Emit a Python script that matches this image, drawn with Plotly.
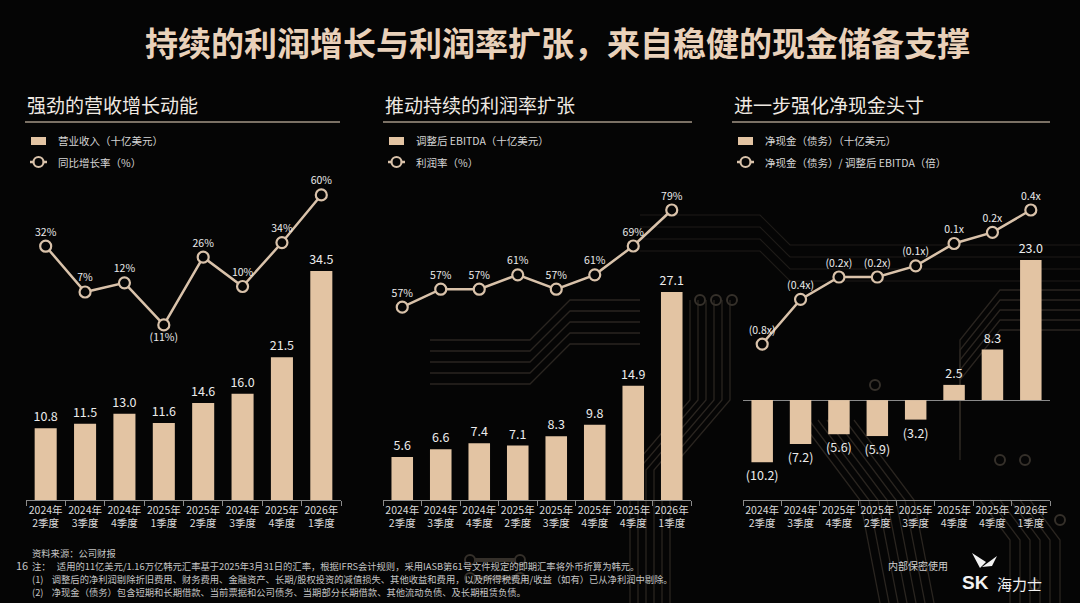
import plotly.graph_objects as go

# ---- data ----
quarters_rev = ["2024年<br>2季度", "2024年<br>3季度", "2024年<br>4季度", "2025年<br>1季度",
                "2025年<br>2季度", "2024年<br>3季度", "2025年<br>4季度", "2026年<br>1季度"]
quarters_ebitda = ["2024年<br>2季度", "2024年<br>3季度", "2024年<br>4季度", "2025年<br>2季度",
                   "2025年<br>3季度", "2025年<br>4季度", "2025年<br>4季度", "2026年<br>1季度"]
quarters_cash = ["2024年<br>2季度", "2024年<br>3季度", "2025年<br>4季度", "2025年<br>2季度",
                 "2025年<br>3季度", "2025年<br>4季度", "2025年<br>4季度", "2026年<br>1季度"]

revenue = [10.8, 11.5, 13.0, 11.6, 14.6, 16.0, 21.5, 34.5]
yoy_growth = [32, 7, 12, -11, 26, 10, 34, 60]

ebitda = [5.6, 6.6, 7.4, 7.1, 8.3, 9.8, 14.9, 27.1]
margin_pct = [52, 57, 57, 61, 57, 61, 69, 79]          # plotted position as drawn
margin_labels = ["57%", "57%", "57%", "61%", "57%", "61%", "69%", "79%"]

net_cash = [-10.2, -7.2, -5.6, -5.9, -3.2, 2.5, 8.3, 23.0]
cash_to_ebitda = [-0.8, -0.4, -0.2, -0.2, -0.1, 0.1, 0.2, 0.4]

# ---- styling ----
W, H = 1080, 603
BG = "#050505"
BAR = "#E3C4A3"
LINE = "#D9C2AA"
TXT = "#ECECEC"
TRACE = "#2A2520"
FONT = "Noto Sans CJK SC"


def fy(py):
    # pixel row -> paper fraction
    return 1 - py / H


def fx(px):
    return px / W


def neg_fmt(v, fmt, suffix=""):
    return f"({abs(v):{fmt}}{suffix})" if v < 0 else f"{v:{fmt}}{suffix}"


def poly(points):
    return "M " + " L ".join(f"{fx(a)},{fy(b)}" for a, b in points)


ydom = [fy(500), fy(190)]
panels = [
    dict(x0=26, x1=341, xs=quarters_rev, bars=revenue, line=yoy_growth,
         bar_text=[neg_fmt(v, ".1f") for v in revenue],
         line_text=[neg_fmt(v, "d", "%") for v in yoy_growth],
         bar_range=[0, 46.7], line_range=[-106.6, 62.7],
         title="强劲的营收增长动能", tx=25, ul=(25, 340),
         leg=("营业收入（十亿美元）", "同比增长率（%）")),
    dict(x0=383, x1=691, xs=quarters_ebitda, bars=ebitda, line=margin_pct,
         bar_text=[neg_fmt(v, ".1f") for v in ebitda],
         line_text=margin_labels,
         bar_range=[0, 40.4], line_range=[-1.56, 84.56],
         title="推动持续的利润率扩张", tx=383, ul=(383, 692),
         leg=("调整后 EBITDA（十亿美元）", "利润率（%）")),
    dict(x0=743, x1=1050, xs=quarters_cash, bars=net_cash, line=cash_to_ebitda,
         bar_text=[neg_fmt(v, ".1f") for v in net_cash],
         line_text=[neg_fmt(v, ".1f", "x") for v in cash_to_ebitda],
         bar_range=[-16.4, 34.5], line_range=[-2.196, 0.579],
         title="进一步强化净现金头寸", tx=732, ul=(732, 1050),
         leg=("净现金（债务）（十亿美元）", "净现金（债务）/ 调整后 EBITDA（倍）")),
]

fig = go.Figure()
layout = {}
shapes = []
annotations = []

# faint circuit-board texture behind the right side of the slide
for k in range(6):
    shapes.append(dict(type="path", layer="below", xref="paper", yref="paper",
                       path=poly([(690 + 8 * k, 300), (690 + 8 * k, 400), (630 + 8 * k, 470), (630 + 8 * k, 603)]),
                       line=dict(color=TRACE, width=1.3)))
for k in range(7):
    shapes.append(dict(type="path", layer="below", xref="paper", yref="paper",
                       path=poly([(800 + 9 * k, 420), (860 + 9 * k, 500), (880 + 9 * k, 603)]),
                       line=dict(color=TRACE, width=1.3)))
for k in range(5):
    shapes.append(dict(type="path", layer="below", xref="paper", yref="paper",
                       path=poly([(1080, 290 + 10 * k), (1000, 290 + 10 * k), (960, 340 + 10 * k), (960, 420 + 10 * k)]),
                       line=dict(color=TRACE, width=1.3)))
for k in range(5):
    shapes.append(dict(type="path", layer="below", xref="paper", yref="paper",
                       path=poly([(430, 340 + 11 * k), (530, 340 + 11 * k), (570, 300 + 11 * k), (640, 300 + 11 * k)]),
                       line=dict(color=TRACE, width=1.3)))
for k in range(4):
    shapes.append(dict(type="path", layer="below", xref="paper", yref="paper",
                       path=poly([(640, 215 + 12 * k), (760, 215 + 12 * k), (790, 245 + 12 * k), (1080, 245 + 12 * k)]),
                       line=dict(color="#1E1B18", width=1.2)))
for k in range(6):
    shapes.append(dict(type="path", layer="below", xref="paper", yref="paper",
                       path=poly([(980 + 10 * k, 500), (1010 + 10 * k, 540), (1010 + 10 * k, 603)]),
                       line=dict(color=TRACE, width=1.3)))
for cx, cy in [(470, 560), (470, 578), (520, 560), (520, 578), (875, 385), (1000, 460), (1025, 460),
               (700, 300), (716, 300), (732, 300), (1060, 520), (1035, 585)]:
    shapes.append(dict(type="circle", layer="below", xref="paper", yref="paper",
                       x0=fx(cx - 5), x1=fx(cx + 5), y0=fy(cy + 5), y1=fy(cy - 5),
                       line=dict(color="#35302A", width=2)))
for yy in (560, 578):
    shapes.append(dict(type="line", layer="below", xref="paper", yref="paper",
                       x0=fx(475), x1=fx(515), y0=fy(yy), y1=fy(yy),
                       line=dict(color="#35302A", width=4)))

for i, p in enumerate(panels):
    n = i + 1
    xa = "x" if n == 1 else f"x{n}"
    yb = "y" if n == 1 else f"y{2 * n - 1}"
    yl = f"y{2 * n}"
    idx = list(range(len(p["bars"])))

    fig.add_trace(go.Bar(
        x=idx, y=p["bars"], xaxis=xa, yaxis=yb, width=0.56,
        marker=dict(color=BAR, line=dict(width=0)),
        text=p["bar_text"], textposition="outside", cliponaxis=False,
        constraintext="none",
        textfont=dict(color=TXT, size=12.5, family=FONT),
        hoverinfo="skip", showlegend=False,
    ))

    positions = ["top center"] * len(idx)
    if n == 1:
        positions[3] = "bottom center"
    fig.add_trace(go.Scatter(
        x=idx, y=p["line"], xaxis=xa, yaxis=yl, mode="lines+markers+text",
        line=dict(color=LINE, width=2.5),
        marker=dict(size=11, color=BG, line=dict(color=LINE, width=2.2)),
        text=p["line_text"], textposition=positions, cliponaxis=False,
        textfont=dict(color=TXT, size=10.5, family=FONT),
        hoverinfo="skip", showlegend=False,
    ))

    xkey = "xaxis" if n == 1 else f"xaxis{n}"
    layout[xkey] = dict(
        domain=[fx(p["x0"]), fx(p["x1"])], anchor=yb, range=[-0.5, 7.5],
        tickmode="array", tickvals=idx, ticktext=p["xs"], ticks="",
        tickfont=dict(color="#DADADA", size=10.5, family=FONT),
        showline=True, linecolor="#8A8A8A", linewidth=1,
        showgrid=False, zeroline=False, fixedrange=True,
        minor=dict(tick0=-0.5, dtick=1, ticks="outside", ticklen=5,
                   tickcolor="#8A8A8A", showgrid=False),
    )
    ybkey = "yaxis" if n == 1 else f"yaxis{2 * n - 1}"
    layout[ybkey] = dict(
        domain=ydom, anchor=xa, range=p["bar_range"], visible=True,
        showticklabels=False, showgrid=False, ticks="",
        zeroline=(n == 3), zerolinecolor="#8A8A8A", zerolinewidth=1,
        showline=False, fixedrange=True,
    )
    layout[f"yaxis{2 * n}"] = dict(
        domain=ydom, anchor=xa, overlaying=yb, range=p["line_range"],
        visible=False, fixedrange=True,
    )

    # section heading and rule
    annotations.append(dict(
        text=p["title"], x=fx(p["tx"]), y=fy(104), xref="paper", yref="paper",
        xanchor="left", yanchor="middle", showarrow=False,
        font=dict(color="#EFE9E2", size=19, family=FONT)))
    shapes.append(dict(type="line", xref="paper", yref="paper",
                       x0=fx(p["ul"][0]), x1=fx(p["ul"][1]), y0=fy(122), y1=fy(122),
                       line=dict(color="#A39686", width=1.5)))

    # hand-drawn legend
    lx = p["tx"] + 6
    shapes.append(dict(type="rect", xref="paper", yref="paper",
                       x0=fx(lx), x1=fx(lx + 15), y0=fy(145), y1=fy(137),
                       fillcolor=BAR, line=dict(width=0)))
    shapes.append(dict(type="line", xref="paper", yref="paper",
                       x0=fx(lx - 1), x1=fx(lx + 16), y0=fy(162), y1=fy(162),
                       line=dict(color=LINE, width=2.5)))
    shapes.append(dict(type="circle", xref="paper", yref="paper",
                       x0=fx(lx + 2.5), x1=fx(lx + 12.5), y0=fy(167), y1=fy(157),
                       fillcolor=BG, line=dict(color=LINE, width=2.2)))
    for k, ly in enumerate([141, 162]):
        annotations.append(dict(
            text=p["leg"][k], x=fx(lx + 25), y=fy(ly), xref="paper", yref="paper",
            xanchor="left", yanchor="middle", showarrow=False,
            font=dict(color="#D6D6D6", size=10.5, family=FONT)))

# main title
annotations.append(dict(
    text="<b>持续的利润增长与利润率扩张，来自稳健的现金储备支撑</b>",
    x=fx(557), y=fy(42), xref="paper", yref="paper", xanchor="center", yanchor="middle",
    showarrow=False, font=dict(color="#E9D1BA", size=33, family=FONT)))

# footnotes
notes = [
    (30, 553, "资料来源：公司财报"),
    (30, 566, "注：   适用的11亿美元/1.16万亿韩元汇率基于2025年3月31日的汇率，根据IFRS会计规则，采用IASB第61号文件规定的即期汇率将外币折算为韩元。"),
    (30, 579, "(1)    调整后的净利润剔除折旧费用、财务费用、金融资产、长期/股权投资的减值损失、其他收益和费用，以及所得税费用/收益（如有）已从净利润中剔除。"),
    (30, 592, "(2)    净现金（债务）包含短期和长期借款、当前票据和公司债务、当期部分长期借款、其他流动负债、及长期租赁负债。"),
]
for x, y, t in notes:
    annotations.append(dict(text=t, x=fx(x), y=fy(y), xref="paper", yref="paper",
                            xanchor="left", yanchor="middle", showarrow=False,
                            font=dict(color="#C4C4C4", size=9.3, family=FONT)))
annotations.append(dict(text="16", x=fx(14), y=fy(565), xref="paper", yref="paper",
                        xanchor="left", yanchor="middle", showarrow=False,
                        font=dict(color="#C4C4C4", size=11, family=FONT)))
annotations.append(dict(text="内部保密使用", x=fx(918), y=fy(565), xref="paper", yref="paper",
                        xanchor="center", yanchor="middle", showarrow=False,
                        font=dict(color="#D0D0D0", size=10, family=FONT)))
annotations.append(dict(text="<b>SK</b>", x=fx(960), y=fy(582), xref="paper", yref="paper",
                        xanchor="left", yanchor="middle", showarrow=False,
                        font=dict(color="#F2F2F2", size=19, family="Liberation Sans")))
annotations.append(dict(text="海力士", x=fx(995), y=fy(583), xref="paper", yref="paper",
                        xanchor="left", yanchor="middle", showarrow=False,
                        font=dict(color="#F2F2F2", size=15, family=FONT)))
# small butterfly mark above the logo
shapes.append(dict(type="path", xref="paper", yref="paper",
                   path=f"M {fx(972)},{fy(553)} L {fx(980)},{fy(568)} L {fx(986)},{fy(562)} Z",
                   fillcolor="#F2F2F2", line=dict(width=0)))
shapes.append(dict(type="path", xref="paper", yref="paper",
                   path=f"M {fx(982)},{fy(567)} L {fx(997)},{fy(556)} L {fx(992)},{fy(566)} Z",
                   fillcolor="#F2F2F2", line=dict(width=0)))

fig.update_layout(
    width=W, height=H,
    margin=dict(l=0, r=0, t=0, b=0),
    paper_bgcolor=BG, plot_bgcolor="rgba(0,0,0,0)",
    font=dict(family=FONT, color=TXT),
    bargap=0.44, showlegend=False,
    shapes=shapes, annotations=annotations,
    **layout,
)

# drop the browser's default page margin so the slide fills the window
fig.write_html(
    "out.html",
    config={"displayModeBar": False},
    post_script="document.body.style.margin='0';document.body.style.background='#050505';",
)
